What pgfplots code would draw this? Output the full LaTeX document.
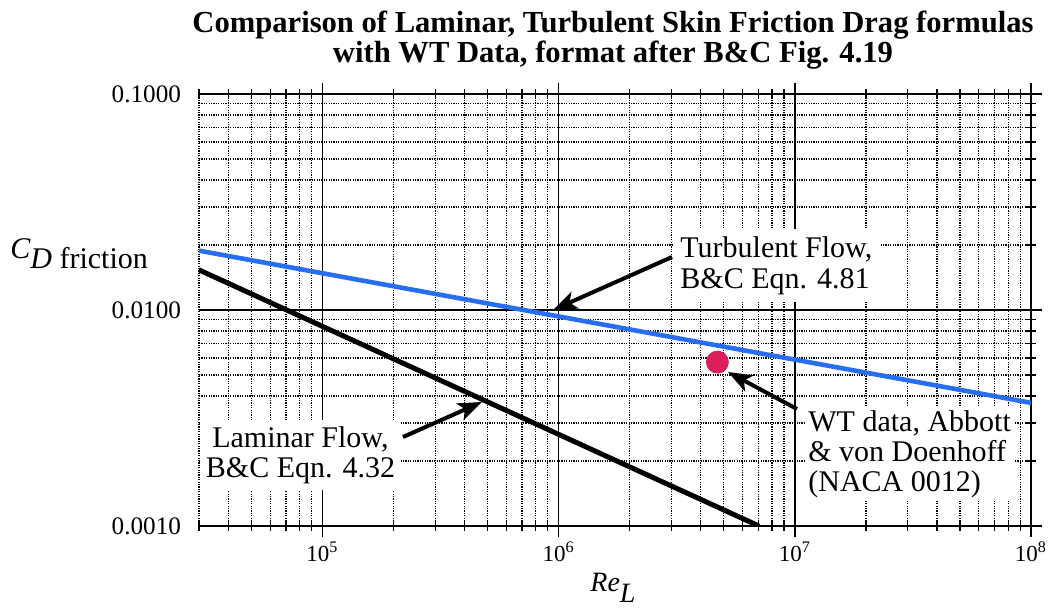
\documentclass[border=0pt]{standalone}
\usepackage{pgfplots}
\pgfplotsset{compat=1.18}
\usepackage{fontspec}
\setmainfont{Liberation Serif}
\usetikzlibrary{arrows.meta}
\definecolor{turb}{RGB}{40,110,245}
\definecolor{wt}{RGB}{220,30,90}
\newcommand{\xtl}[1]{\mbox{\fontsize{11.5}{12}\selectfont 10\textsuperscript{#1}}}
\newcommand{\ytl}[1]{\mbox{\fontsize{12.6}{13}\selectfont #1}}
\begin{document}
\begin{tikzpicture}
\useasboundingbox (-99.5pt,-40.5pt) rectangle (425.5pt,263pt);
\begin{axis}[
  at={(0pt,0pt)}, anchor=south west,
  scale only axis, width=416pt, height=216pt,
  xmode=log, ymode=log,
  xmin=3e4, xmax=1e8, ymin=0.001, ymax=0.1,
  xtick={1e5,1e6,1e7,1e8},
  xticklabels={\xtl{5},\xtl{6},\xtl{7},\xtl{8}},
  minor xtick={3e4,4e4,5e4,6e4,7e4,8e4,9e4,2e5,3e5,4e5,5e5,6e5,7e5,8e5,9e5,2e6,3e6,4e6,5e6,6e6,7e6,8e6,9e6,2e7,3e7,4e7,5e7,6e7,7e7,8e7,9e7},
  ytick={0.001,0.01,0.1},
  yticklabels={\ytl{0.0010},\ytl{0.0100},\ytl{0.1000}},
  minor ytick={0.002,0.003,0.004,0.005,0.006,0.007,0.008,0.009,0.02,0.03,0.04,0.05,0.06,0.07,0.08,0.09},
  xtick pos=both, ytick pos=right, yticklabel pos=left,
  tick align=center, major tick length=11pt, minor tick length=5pt,
  every tick/.style={black, line width=0.8pt},
  minor tick style={black, line width=0.6pt},
  grid=both,
  major grid style={black, line width=0.8pt},
  minor grid style={black, line width=0.6pt, dash pattern=on 0.6pt off 0.6pt},
  separate axis lines,
  x axis line style={line width=0.8pt},
  y axis line style={draw=none},
  xticklabel style={yshift=1pt},
  yticklabel style={xshift=0pt},
]
\addplot[turb, line width=2.3pt] coordinates {
  (3e4,0.01883) (1e5,0.01480) (3e5,0.01188) (1e6,0.009338)
  (3e6,0.007497) (1e7,0.005892) (3e7,0.00473) (1e8,0.003718)};
\addplot[black, line width=2.5pt] coordinates {
  (3e4,0.015335) (1e5,0.008399) (3e5,0.004849) (1e6,0.002656)
  (3e6,0.001533) (7.05e6,0.001)};
\addplot[only marks, mark=*, mark size=5.5pt, mark options={fill=wt, draw=wt}] coordinates {(4.7e6,0.00574)};
\end{axis}
% arrows
\draw[line width=2pt, -{Stealth[length=12pt,width=9pt,inset=3pt]}] (236.5pt,134.5pt) -- (177pt,108pt);
\draw[line width=2pt, -{Stealth[length=12pt,width=9pt,inset=3pt]}] (102pt,44.5pt) -- (141.5pt,62pt);
\draw[line width=2pt, -{Stealth[length=12pt,width=9pt,inset=3pt]}] (299pt,58.5pt) -- (264.5pt,77pt);
% annotations
\node[fill=white, inner sep=3.5pt, anchor=west, align=left, font=\fontsize{15}{15.5}\selectfont] at (237pt,130.25pt) {Turbulent Flow,\\B\&C Eqn. 4.81};
\node[fill=white, inner sep=3pt, align=center, font=\fontsize{15}{15}\selectfont] at (50.75pt,35.5pt) {Laminar Flow,\\B\&C Eqn. 4.32};
\node[fill=white, inner sep=1.5pt, anchor=west, align=left, font=\fontsize{15}{15}\selectfont] at (303pt,36pt) {WT data, Abbott\\\& von Doenhoff\\(NACA 0012)};
% title
\node[anchor=base, inner sep=0pt, font=\bfseries\fontsize{15.3}{15}\selectfont] at (207pt,247pt) {Comparison of Laminar, Turbulent Skin Friction Drag formulas};
\node[anchor=base, inner sep=0pt, font=\bfseries\fontsize{15.3}{15}\selectfont] at (207pt,232pt) {with WT Data, format after B\&C Fig. 4.19};
% axis labels
\node[anchor=base west, inner sep=0pt, font=\fontsize{15}{15}\selectfont] at (-94.5pt,129pt) {\raisebox{5pt}{\itshape C}\textit{D} friction};
\node[anchor=base west, inner sep=0pt, font=\fontsize{14}{14}\selectfont] at (195.5pt,-32.5pt) {\textit{Re}\raisebox{-5.5pt}{\textit{L}}};
\end{tikzpicture}
\end{document}
